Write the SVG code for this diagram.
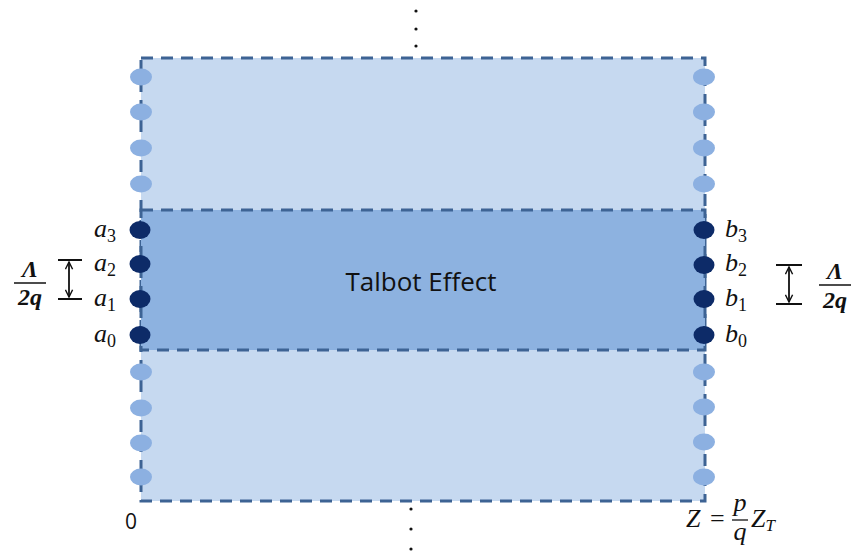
<svg xmlns="http://www.w3.org/2000/svg" width="854" height="552" viewBox="0 0 854 552">
  <style>
    .frame { stroke: #3d6394; stroke-width: 3; stroke-dasharray: 12 8; }
    .lite { fill: #8cb0e1; }
    .dark { fill: #0d2b68; }
    .math { font-family: "Liberation Serif", "DejaVu Serif", serif; font-style: italic; font-size: 26px; fill: #111; }
    .sub { font-family: "Liberation Serif", "DejaVu Serif", serif; font-style: normal; font-size: 18px; fill: #111; }
    .subi { font-family: "Liberation Serif", "DejaVu Serif", serif; font-style: italic; font-size: 17px; fill: #111; }
    .frac { font-family: "Liberation Serif", "DejaVu Serif", serif; font-style: italic; font-weight: bold; font-size: 24px; fill: #111; }
    .bar { stroke: #111; stroke-width: 2; }
    .arrow { stroke: #111; stroke-width: 1.8; }
    .label { font-family: "Open Sans", "Liberation Sans", sans-serif; font-size: 26px; fill: #111; }
  </style>
  <defs>
    <marker id="tip" viewBox="0 0 10 10" refX="9" refY="5" markerWidth="9" markerHeight="9" orient="auto-start-reverse" markerUnits="userSpaceOnUse">
      <path d="M1 1 L9 5 L1 9" fill="none" stroke="#111" stroke-width="1.6"/>
    </marker>
  </defs>

  <rect width="854" height="552" fill="#ffffff"/>

  <!-- outer propagation region -->
  <g id="outer">
    <rect x="141" y="58" width="564" height="443" fill="#c6d9f0" class="frame"/>
  </g>

  <!-- central Talbot band -->
  <g id="talbot">
    <rect x="141" y="210" width="564" height="140" fill="#8db2e0" class="frame"/>
    <text x="421" y="291" text-anchor="middle" class="label">Talbot Effect</text>
  </g>

  <!-- left column of sources -->
  <g id="left-sources">
    <ellipse class="lite" cx="141" cy="77" rx="11" ry="8.5"/>
    <ellipse class="lite" cx="141" cy="112" rx="11" ry="8.5"/>
    <ellipse class="lite" cx="141" cy="148" rx="11" ry="8.5"/>
    <ellipse class="lite" cx="141" cy="184" rx="11" ry="8.5"/>
    <ellipse class="dark" cx="140" cy="230" rx="10.5" ry="9"/>
    <ellipse class="dark" cx="140" cy="264" rx="10.5" ry="9"/>
    <ellipse class="dark" cx="140" cy="299" rx="10.5" ry="9"/>
    <ellipse class="dark" cx="140" cy="335" rx="10.5" ry="9"/>
    <ellipse class="lite" cx="141" cy="372" rx="11" ry="8.5"/>
    <ellipse class="lite" cx="141" cy="408" rx="11" ry="8.5"/>
    <ellipse class="lite" cx="141" cy="443" rx="11" ry="8.5"/>
    <ellipse class="lite" cx="141" cy="477" rx="11" ry="8.5"/>
  </g>

  <!-- right column of images -->
  <g id="right-sources">
    <ellipse class="lite" cx="704" cy="77" rx="11" ry="8.5"/>
    <ellipse class="lite" cx="704" cy="112" rx="11" ry="8.5"/>
    <ellipse class="lite" cx="704" cy="148" rx="11" ry="8.5"/>
    <ellipse class="lite" cx="704" cy="184" rx="11" ry="8.5"/>
    <ellipse class="dark" cx="704" cy="230" rx="10.5" ry="9"/>
    <ellipse class="dark" cx="704" cy="265" rx="10.5" ry="9"/>
    <ellipse class="dark" cx="704" cy="299" rx="10.5" ry="9"/>
    <ellipse class="dark" cx="704" cy="335" rx="10.5" ry="9"/>
    <ellipse class="lite" cx="704" cy="372" rx="11" ry="8.5"/>
    <ellipse class="lite" cx="704" cy="407" rx="11" ry="8.5"/>
    <ellipse class="lite" cx="704" cy="442" rx="11" ry="8.5"/>
    <ellipse class="lite" cx="704" cy="477" rx="11" ry="8.5"/>
  </g>

  <!-- left labels -->
  <g id="left-labels">
    <text x="94" y="237" class="math">a<tspan class="sub" dy="5">3</tspan></text>
    <text x="94" y="271" class="math">a<tspan class="sub" dy="5">2</tspan></text>
    <text x="94" y="306" class="math">a<tspan class="sub" dy="5">1</tspan></text>
    <text x="94" y="342" class="math">a<tspan class="sub" dy="5">0</tspan></text>
  </g>

  <!-- right labels -->
  <g id="right-labels">
    <text x="725" y="237" class="math">b<tspan class="sub" dy="5">3</tspan></text>
    <text x="725" y="271" class="math">b<tspan class="sub" dy="5">2</tspan></text>
    <text x="725" y="306" class="math">b<tspan class="sub" dy="5">1</tspan></text>
    <text x="725" y="342" class="math">b<tspan class="sub" dy="5">0</tspan></text>
  </g>

  <!-- spacing markers -->
  <g id="connectors">
    <line class="bar" x1="58" y1="260" x2="82" y2="260"/>
    <line class="bar" x1="58" y1="299" x2="82" y2="299"/>
    <line class="arrow" x1="69" y1="262" x2="69" y2="297" marker-start="url(#tip)" marker-end="url(#tip)"/>
    <line class="bar" x1="776" y1="265" x2="802" y2="265"/>
    <line class="bar" x1="776" y1="304" x2="802" y2="304"/>
    <line class="arrow" x1="789" y1="267" x2="789" y2="302" marker-start="url(#tip)" marker-end="url(#tip)"/>
  </g>

  <!-- period fractions -->
  <g id="left-fraction">
    <text x="30" y="277" text-anchor="middle" class="frac">Λ</text>
    <line x1="14" y1="283" x2="46" y2="283" stroke="#111" stroke-width="1.5"/>
    <text x="30" y="305" text-anchor="middle" class="frac">2q</text>
  </g>
  <g id="right-fraction">
    <text x="835" y="279" text-anchor="middle" class="frac">Λ</text>
    <line x1="819" y1="285" x2="851" y2="285" stroke="#111" stroke-width="1.5"/>
    <text x="835" y="308" text-anchor="middle" class="frac">2q</text>
  </g>

  <!-- axis labels -->
  <g id="origin">
    <text x="131" y="529" text-anchor="middle" font-family="Open Sans, Liberation Sans, sans-serif" font-size="21" fill="#111">0</text>
  </g>
  <g id="distance">
    <text x="686" y="527" class="math">Z</text>
    <text x="710" y="527" font-family="Liberation Serif, serif" font-size="26" fill="#111">=</text>
    <text x="740" y="511" text-anchor="middle" class="math">p</text>
    <line x1="732" y1="520" x2="748" y2="520" stroke="#111" stroke-width="1.3"/>
    <text x="740" y="540" text-anchor="middle" class="math">q</text>
    <text x="751" y="527" class="math">Z<tspan class="subi" dy="4">T</tspan></text>
  </g>

  <!-- continuation dots -->
  <g id="ellipsis-top" fill="#111">
    <circle cx="416" cy="11" r="1.6"/>
    <circle cx="416" cy="29" r="1.6"/>
    <circle cx="416" cy="46" r="1.6"/>
  </g>
  <g id="ellipsis-bottom" fill="#111">
    <circle cx="411" cy="509" r="1.6"/>
    <circle cx="411" cy="529" r="1.6"/>
    <circle cx="411" cy="549" r="1.6"/>
  </g>
</svg>
